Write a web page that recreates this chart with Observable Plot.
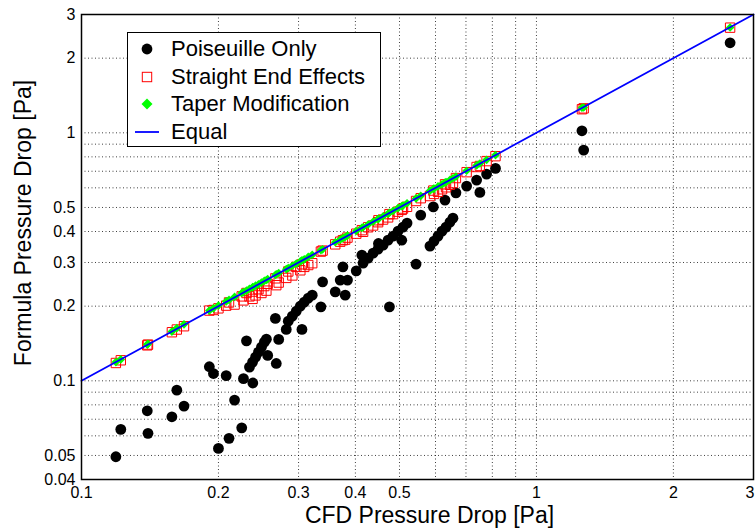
<!DOCTYPE html>
<html>
<head>
<meta charset="utf-8">
<script src="https://cdn.jsdelivr.net/npm/d3@7"></script>
<script src="https://cdn.jsdelivr.net/npm/@observablehq/plot@0.6"></script>
<style>
  html, body { margin: 0; padding: 0; background: #fff; }
  #wrap { position: relative; width: 755px; height: 530px; font-family: "Liberation Sans", Arial, Helvetica, sans-serif; }
  #legend { position: absolute; left: 127px; top: 32px; width: 254px; height: 115px; border: 1px solid #000; background: #fff; box-sizing: border-box; }
  .lg { position: absolute; left: 0; height: 26px; display: flex; align-items: center; font-size: 22px; color: #000; white-space: nowrap; }
  .lg svg { width: 33px; height: 26px; margin-left: 7px; margin-right: 3px; flex: none; }
</style>
</head>
<body>
<div id="wrap"></div>
<script>
// CFD pressure drop [Pa] (x), shared by all three formula series
const cfd = [0.119,0.122,0.1395,0.140,0.158,0.162,0.168,0.191,0.195,0.200,0.208,0.211,0.217,0.225,0.227,0.2305,0.234,0.2377,0.238,0.2413,0.2449,0.2486,0.2523,0.2549,0.2566,0.2668,0.268,0.2713,0.2819,0.2848,0.2907,0.2966,0.3027,0.3052,0.3088,0.3151,0.3215,0.3359,0.3388,0.3612,0.3704,0.3755,0.3799,0.3843,0.4017,0.4133,0.4159,0.4267,0.4375,0.4487,0.4495,0.4603,0.4720,0.4752,0.4840,0.4964,0.5058,0.5090,0.5195,0.5437,0.5568,0.5834,0.5934,0.5955,0.6077,0.6201,0.6295,0.6328,0.6455,0.6554,0.6653,0.7023,0.7387,0.751,0.777,0.8128,1.259,1.27,2.665];
// Formula pressure drop: Poiseuille only
const poiseuille = [0.0494,0.0637,0.0757,0.0614,0.0716,0.0917,0.0791,0.114,0.107,0.0534,0.105,0.0586,0.0836,0.0646,0.102,0.1449,0.1136,0.119,0.098,0.1246,0.1305,0.1367,0.1432,0.1472,0.1266,0.1785,0.1175,0.1469,0.1612,0.174,0.1823,0.191,0.200,0.1612,0.2076,0.2155,0.2215,0.1988,0.2506,0.2285,0.2547,0.2882,0.2215,0.2547,0.2777,0.3213,0.2983,0.3125,0.3273,0.3397,0.358,0.3525,0.3693,0.1988,0.3833,0.4015,0.369,0.4168,0.4325,0.2955,0.4659,0.3493,0.503,0.366,0.3833,0.4015,0.5355,0.4168,0.4365,0.4529,0.5728,0.6097,0.6446,0.5752,0.6817,0.7187,1.019,0.852,2.307];
// Formula pressure drop: straight end effects
const straight = [0.118,0.121,0.139,0.140,0.157,0.161,0.166,0.192,0.193,0.196,0.201,0.207,0.203,0.219,0.211,0.226,0.219,0.214,0.229,0.221,0.234,0.226,0.241,0.231,0.246,0.259,0.243,0.249,0.260,0.276,0.266,0.288,0.279,0.295,0.288,0.293,0.298,0.332,0.335,0.355,0.364,0.369,0.371,0.378,0.392,0.405,0.399,0.416,0.423,0.436,0.444,0.447,0.456,0.470,0.470,0.481,0.489,0.495,0.503,0.531,0.545,0.556,0.585,0.567,0.578,0.592,0.620,0.603,0.617,0.627,0.657,0.694,0.728,0.735,0.769,0.805,1.245,1.255,2.655];
// Formula pressure drop: taper modification
const taper = [0.119,0.122,0.140,0.141,0.158,0.163,0.169,0.192,0.196,0.201,0.209,0.212,0.218,0.226,0.228,0.231,0.235,0.238,0.239,0.242,0.245,0.249,0.253,0.255,0.257,0.267,0.269,0.272,0.282,0.285,0.291,0.297,0.303,0.306,0.309,0.316,0.322,0.336,0.339,0.362,0.371,0.376,0.380,0.385,0.402,0.414,0.416,0.427,0.438,0.449,0.450,0.461,0.472,0.476,0.484,0.497,0.506,0.509,0.520,0.544,0.557,0.584,0.594,0.596,0.608,0.620,0.630,0.633,0.646,0.656,0.666,0.703,0.739,0.752,0.778,0.813,1.262,1.265,2.66];
// Equal reference line
const equalX = [0.1, 3];

const xTickLabels = [0.1,0.2,0.3,0.4,0.5,1,2];
const xLastTick = [3];
const xGrid = [0.1,0.2,0.3,0.4,0.5,0.6,0.7,0.8,0.9,1,2,3];
const yTickLabels = [0.04,0.05,0.1,0.2,0.3,0.4,0.5,1,2,3];
const yGrid = [0.04,0.05,0.06,0.07,0.08,0.09,0.1,0.2,0.3,0.4,0.5,0.6,0.7,0.8,0.9,1,2,3];

const rows = cfd.map((x, i) => ({x, p: poiseuille[i], s: straight[i], t: taper[i]}));

const chart = Plot.plot({
  width: 755,
  height: 530,
  marginLeft: 81,
  marginRight: 2,
  marginTop: 14,
  marginBottom: 51,
  style: {fontFamily: '"Liberation Sans", Arial, Helvetica, sans-serif', background: "#fff", color: "#000"},
  x: {type: "log", domain: [0.1, 3]},
  y: {type: "log", domain: [0.04, 3]},
  marks: [
    Plot.gridX(xGrid, {stroke: "#000", strokeOpacity: 0.75, strokeDasharray: "1,2.5"}),
    Plot.gridY(yGrid, {stroke: "#000", strokeOpacity: 0.75, strokeDasharray: "1,2.5"}),
    Plot.axisX(xTickLabels, {tickSize: 0, tickPadding: 7, fontSize: 16, tickFormat: d => String(d), label: null}),
    Plot.axisX(xLastTick, {tickSize: 0, tickPadding: 7, fontSize: 16, tickFormat: d => String(d), label: null, textAnchor: "end", dx: 1}),
    Plot.axisY(yTickLabels, {tickSize: 0, tickPadding: 6, fontSize: 16, tickFormat: d => String(d), label: null}),
    Plot.text(["CFD Pressure Drop [Pa]"], {frameAnchor: "bottom", dx: 12, dy: 36, fontSize: 23, lineAnchor: "middle"}),
    Plot.text(["Formula Pressure Drop [Pa]"], {frameAnchor: "left", dx: -58, dy: -24, rotate: -90, fontSize: 23, lineAnchor: "middle", textAnchor: "middle"}),
    Plot.dot(rows, {x: "x", y: "p", r: 5.4, fill: "#000", stroke: "none"}),
    Plot.dot(rows, {x: "x", y: "s", symbol: "square", r: 5.3, fill: "none", stroke: "#ff0000", strokeWidth: 1}),
    Plot.dot(rows, {x: "x", y: "t", symbol: "diamond2", r: 3.9, fill: "#00ff00", stroke: "none"}),
    Plot.line(equalX, {x: d => d, y: d => d, stroke: "#0000ff", strokeWidth: 1.8}),
    Plot.frame({stroke: "#000", strokeWidth: 1.5})
  ]
});

const wrap = document.getElementById("wrap");
wrap.appendChild(chart);

const legend = document.createElement("div");
legend.id = "legend";
legend.innerHTML = `
  <div class="lg" style="top:3px"><svg viewBox="0 0 33 26"><circle cx="12" cy="13" r="5.4" fill="#000"/></svg>Poiseuille Only</div>
  <div class="lg" style="top:31px"><svg viewBox="0 0 33 26"><rect x="7.3" y="8.3" width="9.4" height="9.4" fill="none" stroke="#ff0000" stroke-width="1"/></svg>Straight End Effects</div>
  <div class="lg" style="top:58px"><svg viewBox="0 0 33 26"><path d="M12 7.5 L17.5 13 L12 18.5 L6.5 13 Z" fill="#00ff00"/></svg>Taper Modification</div>
  <div class="lg" style="top:86px"><svg viewBox="0 0 33 26"><line x1="0" y1="13" x2="24" y2="13" stroke="#0000ff" stroke-width="1.8"/></svg>Equal</div>`;
wrap.appendChild(legend);
</script>
</body>
</html>
